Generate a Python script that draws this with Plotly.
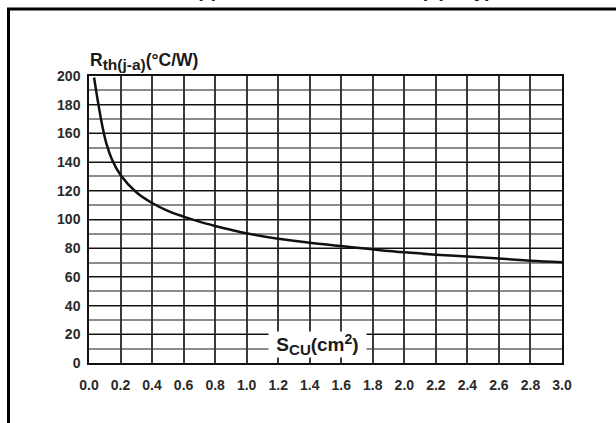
import plotly.graph_objects as go

# Data
scu_cm2 = [0.032, 0.06, 0.085, 0.11, 0.145, 0.20, 0.30, 0.40, 0.50, 0.60, 0.70, 0.80,
           0.90, 1.0, 1.2, 1.4, 1.6, 1.8, 2.0, 2.2, 2.4, 2.6, 2.8, 3.0]
rth_ja = [199, 180, 165, 153, 142, 131, 119, 111.5, 106, 102, 98.5, 95.5,
          92.8, 90.4, 86.6, 83.8, 81.5, 79.2, 77.1, 75.5, 74.2, 72.8, 71.3, 70.2]
x_ticks = [0.0, 0.2, 0.4, 0.6, 0.8, 1.0, 1.2, 1.4, 1.6, 1.8, 2.0, 2.2, 2.4, 2.6, 2.8, 3.0]
y_ticks = [0, 20, 40, 60, 80, 100, 120, 140, 160, 180, 200]

W, H = 616, 423
L, R, T, B = 89, 54, 76, 60
PW, PH = W - L - R, H - T - B

def px_x(p):
    return (p - L) / PW

def px_y(p):
    return (H - B - p) / PH

FONT = "Arial, Liberation Sans, Helvetica, sans-serif"

fig = go.Figure()
fig.add_trace(go.Scatter(
    x=scu_cm2, y=rth_ja, mode="lines",
    line=dict(color="#111111", width=2.5, shape="spline", smoothing=1.0),
    showlegend=False, hoverinfo="skip",
))

fig.update_layout(
    width=W, height=H,
    margin=dict(l=L, r=R, t=T, b=B),
    paper_bgcolor="white", plot_bgcolor="white",
    font=dict(family=FONT, color="#1a1a1a"),
    xaxis=dict(
        range=[0, 3.0], tickvals=x_ticks, ticktext=[f"{v:.1f}" for v in x_ticks],
        showgrid=True, gridcolor="#3a3a3a", gridwidth=1.5,
        showline=True, linecolor="#111111", linewidth=1.5, mirror=True,
        ticks="", ticklabelstandoff=8, zeroline=False,
        tickfont=dict(size=14, family=FONT, weight="bold", color="#2a2a2a"),
        fixedrange=True,
    ),
    yaxis=dict(
        range=[0, 200], tickvals=y_ticks,
        showgrid=True, gridcolor="#111111", gridwidth=1.2,
        minor=dict(dtick=10, showgrid=True, gridcolor="#8c8c8c", gridwidth=2),
        showline=True, linecolor="#111111", linewidth=1.5, mirror=True,
        ticks="", ticklabelstandoff=4, zeroline=False,
        tickfont=dict(size=14, family=FONT, weight="bold", color="#2a2a2a"),
        fixedrange=True,
    ),
    shapes=[
        dict(type="line", xref="paper", yref="paper",
             x0=px_x(8.5), x1=px_x(8.5), y0=px_y(9), y1=px_y(430),
             line=dict(color="black", width=3)),
        dict(type="line", xref="paper", yref="paper",
             x0=px_x(7), x1=px_x(620), y0=px_y(9), y1=px_y(9),
             line=dict(color="black", width=3)),
    ],
    annotations=[
        # cut-off title at the top
        dict(text="Thermal resistance versus copper surface under tab (epoxy)",
             xref="paper", yref="paper", x=px_x(204), y=px_y(3),
             xanchor="center", yanchor="bottom", showarrow=False,
             font=dict(size=20, family=FONT, weight="bold", color="#1a1a1a")),
        # y-axis title
        dict(text="R<sub><span style='font-size:15.5px'>th(j-a)</span></sub>(°C/W)",
             xref="paper", yref="paper", x=px_x(88), y=px_y(75),
             xanchor="left", yanchor="bottom", showarrow=False,
             font=dict(size=17.5, family=FONT, weight="bold", color="#1a1a1a")),
        # x-axis title inside plot
        dict(text="S<sub><span style='font-size:15px'>CU</span></sub>(cm<sup><span style='font-size:14px'>2</span></sup>)",
             xref="paper", yref="paper", x=px_x(317.5), y=px_y(344.5),
             xanchor="center", yanchor="middle", showarrow=False,
             width=97, height=25, bgcolor="white", borderpad=0,
             font=dict(size=19, family=FONT, weight="bold", color="#1a1a1a")),
    ],
)

fig.write_html("out.html")
